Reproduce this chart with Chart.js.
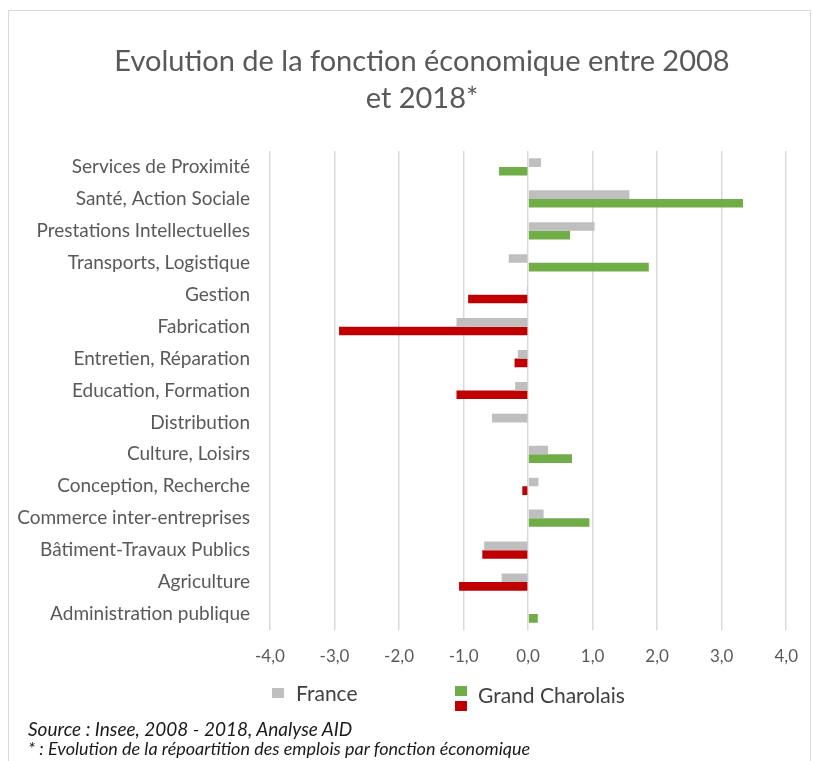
<!DOCTYPE html>
<html>
<head>
<meta charset="utf-8">
<script src="https://cdn.jsdelivr.net/npm/chart.js@4"></script>
<style>
  html, body { margin: 0; padding: 0; background: #fff; }
  body { width: 814px; height: 761px; position: relative; overflow: hidden; font-family: Lato, "Open Sans", sans-serif; color: #595959; }
  .frame { position: absolute; left: 8px; top: 10px; width: 801px; height: 800px; border: 1px solid #d9d9d9; }
  #wrap { position: absolute; left: 0; top: 0; width: 814px; height: 761px; }
  .title { position: absolute; left: 0; width: 844px; text-align: center; font-size: 29px; line-height: 37px; top: 41px; }
  .legend { position: absolute; font-size: 21px; line-height: 21px; color: #404040; white-space: nowrap; }
  .sq { position: absolute; }
  .note { position: absolute; left: 28px; font-style: italic; color: #1a1a1a; white-space: nowrap; }
</style>
</head>
<body>
<div class="frame"></div>
<div id="wrap"><canvas id="chart"></canvas></div>
<div class="title">Evolution de la fonction économique entre 2008<br>et 2018*</div>

<div class="sq" style="left:272px;top:688px;width:12px;height:10px;background:#bfbfbf"></div>
<div class="legend" style="left:296px;top:682px">France</div>
<div class="sq" style="left:455px;top:686px;width:12px;height:10px;background:#70ad47"></div>
<div class="sq" style="left:455px;top:701px;width:12px;height:10px;background:#c00000"></div>
<div class="legend" style="left:478px;top:684px">Grand Charolais</div>

<div class="note" style="top:719px;font-size:19px;line-height:19px">Source : Insee, 2008 - 2018, Analyse AID</div>
<div class="note" style="top:739px;font-size:18px;line-height:18px">* : Evolution de la répoartition des emplois par fonction économique</div>

<script>
const categories = [
  'Services de Proximité',
  'Santé, Action Sociale',
  'Prestations Intellectuelles',
  'Transports, Logistique',
  'Gestion',
  'Fabrication',
  'Entretien, Réparation',
  'Education, Formation',
  'Distribution',
  'Culture, Loisirs',
  'Conception, Recherche',
  'Commerce inter-entreprises',
  'Bâtiment-Travaux Publics',
  'Agriculture',
  'Administration publique'
];
const franceValues = [0.20, 1.57, 1.03, -0.30, -0.02, -1.11, -0.16, -0.20, -0.56, 0.31, 0.16, 0.24, -0.68, -0.41, null];
const charolaisValues = [-0.45, 3.33, 0.65, 1.87, -0.93, -2.93, -0.21, -1.11, null, 0.68, -0.09, 0.95, -0.71, -1.07, 0.15];
const charolaisColors = ['#70ad47', '#70ad47', '#70ad47', '#70ad47', '#c00000', '#c00000', '#c00000', '#c00000', '#c00000',
  '#70ad47', '#c00000', '#70ad47', '#c00000', '#c00000', '#70ad47'];
const xTickValues = [-4, -3, -2, -1, 0, 1, 2, 3, 4];
const xTickLabels = ['-4,0', '-3,0', '-2,0', '-1,0', '0,0', '1,0', '2,0', '3,0', '4,0'];

const textColor = '#595959';
const fontFamily = 'Lato, "Open Sans", sans-serif';

new Chart(document.getElementById('chart'), {
  type: 'bar',
  data: {
    labels: categories,
    datasets: [
      { label: 'France', data: franceValues, backgroundColor: '#bfbfbf', categoryPercentage: 0.54, barPercentage: 1 },
      { label: 'Grand Charolais', data: charolaisValues, backgroundColor: charolaisColors, categoryPercentage: 0.54, barPercentage: 1 }
    ]
  },
  options: {
    indexAxis: 'y',
    responsive: true,
    maintainAspectRatio: false,
    animation: false,
    layout: { padding: { left: 0, right: 18, top: 151, bottom: 80 } },
    plugins: {
      legend: { display: false },
      tooltip: { enabled: false }
    },
    scales: {
      x: {
        min: -4,
        max: 4,
        afterBuildTicks: axis => { axis.ticks = xTickValues.map(v => ({ value: v })); },
        afterFit: axis => { axis.height = 51; },
        grid: { color: '#d9d9d9', lineWidth: 1.5, drawTicks: false },
        border: { display: false },
        ticks: {
          padding: 16,
          color: textColor,
          font: { family: fontFamily, size: 17 },
          callback: v => xTickLabels[xTickValues.indexOf(v)]
        }
      },
      y: {
        afterFit: axis => { axis.width = 270; },
        grid: { display: false, drawTicks: false },
        border: { display: false },
        ticks: {
          padding: 20,
          color: textColor,
          font: { family: fontFamily, size: 19 }
        }
      }
    }
  }
});
</script>
</body>
</html>
